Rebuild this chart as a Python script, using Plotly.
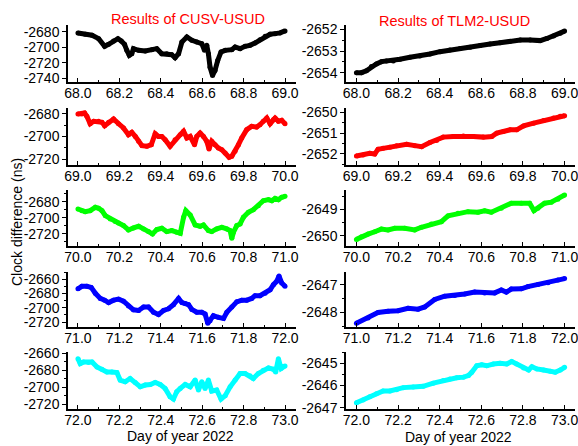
import plotly.graph_objects as go

# ---------------- data ----------------
base_days = [68, 69, 70, 71, 72]
colors = ["#000000", "#FF0000", "#00FF00", "#0000FF", "#00FFFF"]

# CUSV-USUD (left column): day offsets and clock difference (ns)
cusv_t68 = [0, .035, .068, .100, .129, .148, .172, .193, .209, .225, .236, .248, .260, .268, .293, .325, .357, .381, .405, .429,
            .453, .469, .486, .502, .526, .550, .574, .598, .611, .622, .630, .638, .650, .662, .675, .691, .711, .743, .759, .783,
            .807, .831, .855, .879, .904, .928, .952, .976, 1.0]
cusv_v68 = [-2681.3, -2683, -2684.3, -2688.7, -2698.7, -2696.1, -2691.7, -2688.7, -2691.7, -2696.1, -2703.9, -2710.4, -2708.3,
            -2701.7, -2703.9, -2704.8, -2703, -2701.7, -2708.3, -2708.3, -2709.6, -2713.5, -2708.3, -2693, -2686.5, -2690.9,
            -2693, -2695.2, -2703.9, -2697.4, -2708.3, -2725.7, -2736.5, -2730, -2717, -2706, -2703.9, -2703, -2699.6,
            -2701.7, -2698.7, -2697.4, -2694.3, -2690, -2685.7, -2683, -2682.2, -2681.3, -2678.7]

cusv_t69 = [0, .019, .032, .043, .059, .076, .100, .116, .129, .148, .172, .196, .220, .244, .260, .277, .293, .309, .333, .354,
            .373, .389, .405, .421, .445, .469, .494, .510, .526, .542, .563, .574, .590, .606, .622, .633, .646, .662, .678,
            .695, .711, .730, .743, .759, .775, .791, .815, .839, .863, .879, .895, .912, .928, .944, .952, .968, .984, 1.0]
cusv_v69 = [-2680.0, -2680.0, -2679.1, -2682.1, -2688.6, -2686.5, -2686.5, -2687.4, -2690.4, -2687.4, -2684.4, -2688.6,
            -2692.4, -2698.4, -2696.3, -2699.9, -2704.3, -2708.1, -2708.7, -2707.3, -2697.5, -2699.9, -2699.9, -2702.8,
            -2708.7, -2702.8, -2698.4, -2695.4, -2701.3, -2699.9, -2707.3, -2699.9, -2696.9, -2699.9, -2704.3, -2711.1,
            -2704.3, -2707.3, -2710.2, -2711.7, -2714.7, -2718.5, -2717.6, -2713.2, -2707.3, -2701.3, -2693.9, -2691.0,
            -2691.6, -2689.5, -2686.5, -2683.6, -2688.6, -2685.0, -2683.6, -2686.5, -2685.6, -2688.6]

cusv_t70 = [0, .019, .035, .059, .084, .100, .116, .132, .156, .180, .196, .220, .244, .268, .293, .317, .341, .360, .381, .405,
            .429, .453, .477, .494, .510, .521, .542, .566, .590, .606, .630, .646, .670, .695, .719, .735, .743, .751, .767,
            .783, .799, .823, .847, .871, .895, .920, .936, .952, .968, .984, 1.0]
cusv_v70 = [-2689.1, -2691.1, -2692.4, -2691.1, -2687.0, -2688.2, -2691.1, -2697.3, -2701.4, -2704.7, -2706.4, -2709.7,
            -2715.1, -2712.6, -2710.5, -2713.8, -2717.1, -2720.0, -2714.6, -2713.0, -2717.1, -2715.9, -2717.9, -2719.2,
            -2699.4, -2691.1, -2696.5, -2708.9, -2710.5, -2708.9, -2715.9, -2717.1, -2713.8, -2711.8, -2713.8, -2715.9,
            -2725.4, -2717.9, -2709.7, -2707.6, -2699.4, -2693.2, -2689.9, -2684.9, -2678.8, -2677.5, -2678.8, -2675.9,
            -2677.5, -2674.6, -2673.4]

cusv_t71 = [0, .019, .043, .064, .084, .108, .129, .148, .172, .196, .220, .244, .268, .293, .317, .341, .365, .389, .413, .437,
            .461, .486, .502, .518, .534, .550, .574, .598, .614, .627, .638, .654, .678, .703, .719, .743, .767, .791, .815,
            .839, .855, .879, .904, .928, .944, .960, .971, .984, 1.0]
cusv_v71 = [-2673.5, -2670.1, -2670.1, -2671.6, -2679.8, -2687.0, -2689.4, -2692.8, -2689.4, -2688.0, -2690.8, -2697.6,
            -2702.9, -2703.9, -2699.0, -2699.0, -2706.3, -2709.6, -2703.9, -2701.5, -2695.7, -2687.0, -2692.8, -2694.2,
            -2695.7, -2702.4, -2706.3, -2706.3, -2708.7, -2721.7, -2718.3, -2711.1, -2713.5, -2714.9, -2706.3, -2699.0,
            -2691.8, -2689.4, -2689.4, -2687.0, -2683.1, -2683.1, -2679.8, -2674.9, -2667.7, -2662.9, -2655.7, -2665.3,
            -2670.1]

cusv_t72 = [0, .011, .027, .051, .068, .092, .116, .140, .164, .188, .204, .228, .252, .277, .301, .325, .349, .373, .397, .421,
            .445, .461, .477, .494, .518, .542, .566, .582, .598, .614, .630, .646, .670, .691, .711, .735, .759, .783, .807,
            .831, .847, .871, .895, .920, .944, .955, .968, .981, 1.0]
cusv_v72 = [-2666.6, -2672.4, -2670.4, -2671.2, -2670.4, -2676.3, -2679.0, -2682.1, -2682.1, -2682.8, -2691.7, -2693.7,
            -2689.8, -2694.4, -2699.5, -2697.5, -2696.8, -2694.4, -2696.8, -2701.4, -2711.1, -2713.8, -2705.3, -2701.4,
            -2696.8, -2699.5, -2691.7, -2703.3, -2693.7, -2701.4, -2691.7, -2704.5, -2703.3, -2713.8, -2709.9, -2699.5,
            -2691.7, -2684.0, -2684.0, -2686.7, -2689.8, -2684.0, -2680.1, -2677.4, -2679.0, -2682.1, -2666.6, -2678.2,
            -2675.1]

# TLM2-USUD (right column)
tlm2_t68 = [0, .024, .048, .072, .096, .120, .144, .177, .209, .257, .305, .353, .401, .449, .498, .546, .594, .642, .690,
            .738, .787, .835, .883, .915, .947, .979, 1.0]
tlm2_v68 = [-2654.0, -2654.0, -2653.91, -2653.72, -2653.6, -2653.49, -2653.46, -2653.46, -2653.38, -2653.29, -2653.23,
            -2653.14, -2653.03, -2652.95, -2652.89, -2652.83, -2652.75, -2652.68, -2652.62, -2652.55, -2652.49, -2652.49,
            -2652.52, -2652.42, -2652.31, -2652.18, -2652.08]

tlm2_t69 = [0, .032, .064, .088, .104, .128, .161, .193, .241, .281, .313, .353, .385, .417, .465, .514, .562, .610, .650,
            .674, .706, .738, .770, .803, .851, .899, .947, .979, 1.0]
tlm2_v69 = [-2652.1, -2652.05, -2651.97, -2652.0, -2651.77, -2651.73, -2651.68, -2651.6, -2651.53, -2651.6, -2651.65,
            -2651.45, -2651.35, -2651.19, -2651.16, -2651.13, -2651.16, -2651.19, -2651.16, -2651.0, -2650.92, -2650.84,
            -2650.84, -2650.65, -2650.52, -2650.39, -2650.27, -2650.19, -2650.16]

tlm2_t70 = [0, .024, .056, .088, .120, .152, .184, .232, .280, .312, .360, .408, .440, .488, .536, .584, .616, .648, .696,
            .744, .792, .832, .853, .872, .904, .936, .968, 1.0]
tlm2_v70 = [-2650.14, -2650.04, -2649.94, -2649.85, -2649.75, -2649.78, -2649.72, -2649.72, -2649.78, -2649.68, -2649.56,
            -2649.47, -2649.25, -2649.15, -2649.09, -2649.11, -2649.06, -2649.11, -2648.96, -2648.77, -2648.77, -2648.77,
            -2649.05, -2648.96, -2648.77, -2648.73, -2648.62, -2648.46]

tlm2_t71 = [0, .056, .104, .152, .200, .248, .296, .328, .376, .424, .472, .520, .568, .616, .664, .696, .720, .744, .792,
            .824, .872, .920, .968, 1.0]
tlm2_v71 = [-2648.39, -2648.2, -2648.0, -2647.96, -2647.94, -2647.85, -2647.88, -2647.8, -2647.53, -2647.41, -2647.38,
            -2647.33, -2647.26, -2647.29, -2647.29, -2647.18, -2647.26, -2647.15, -2647.14, -2647.06, -2646.98, -2646.92,
            -2646.82, -2646.77]

tlm2_t72 = [0, .032, .064, .096, .128, .161, .193, .225, .273, .321, .369, .417, .449, .482, .514, .538, .554, .578, .602,
            .626, .658, .690, .722, .746, .770, .803, .827, .843, .867, .899, .931, .955, .979, 1.0]
tlm2_v72 = [-2646.78, -2646.66, -2646.51, -2646.37, -2646.25, -2646.25, -2646.19, -2646.1, -2646.07, -2646.04, -2645.9,
            -2645.78, -2645.71, -2645.66, -2645.63, -2645.56, -2645.41, -2645.12, -2645.07, -2645.12, -2645.04, -2645.01,
            -2645.04, -2644.93, -2645.04, -2645.22, -2645.31, -2645.16, -2645.26, -2645.31, -2645.37, -2645.41, -2645.31,
            -2645.19]

left_series = [(cusv_t68, cusv_v68), (cusv_t69, cusv_v69), (cusv_t70, cusv_v70), (cusv_t71, cusv_v71), (cusv_t72, cusv_v72)]
right_series = [(tlm2_t68, tlm2_v68), (tlm2_t69, tlm2_v69), (tlm2_t70, tlm2_v70), (tlm2_t71, tlm2_v71), (tlm2_t72, tlm2_v72)]

# y tick values per panel
left_yticks = [[-2680, -2700, -2720, -2740], [-2680, -2700, -2720], [-2680, -2700, -2720],
               [-2660, -2680, -2700, -2720], [-2660, -2680, -2700, -2720]]
right_yticks = [[-2652, -2653, -2654], [-2650, -2651, -2652], [-2649, -2650], [-2647, -2648], [-2645, -2646, -2647]]
left_yranges = [[-2745, -2671], [-2725.3, -2674.7], [-2735, -2665.5], [-2727, -2650], [-2725.5, -2658.8]]
right_yranges = [[-2654.43, -2651.8], [-2652.53, -2649.79], [-2650.39, -2648.27], [-2648.53, -2646.53], [-2647.06, -2644.5]]
left_yminor = [20, 10, 10, 10, 10]
right_yminor = [0.5, 0.5, 0.5, 0.5, 0.5]

titles = ["Results of CUSV-USUD", "Results of TLM2-USUD"]
xlabel = "Day of year 2022"
ylabel = "Clock difference (ns)"

# ---------------- layout ----------------
W, H = 578, 446
FONT = "Liberation Sans, Arial, sans-serif"
row_px = [(25, 82), (108, 165), (190, 246), (272, 327), (352, 409)]
col_px = [(68, 296), (346, 575)]
xpad = [(0.048, 0.053), (0.05, 0.05)]

fig = go.Figure()
layout = dict(width=W, height=H, margin=dict(l=0, r=0, t=0, b=0, autoexpand=False), paper_bgcolor="white",
              plot_bgcolor="white", showlegend=False, font=dict(family=FONT, size=14, color="black"))

k = 0
for c, series_set in enumerate([left_series, right_series]):
    yticks_set = left_yticks if c == 0 else right_yticks
    yr_set = left_yranges if c == 0 else right_yranges
    ymin_set = left_yminor if c == 0 else right_yminor
    for r in range(5):
        k += 1
        xa = "x" if k == 1 else f"x{k}"
        ya = "y" if k == 1 else f"y{k}"
        t, v = series_set[r]
        days = [base_days[r] + o for o in t]
        fig.add_trace(go.Scatter(x=days, y=v, mode="lines+markers", xaxis=xa, yaxis=ya, cliponaxis=False,
                                 line=dict(color=colors[r], width=5),
                                 marker=dict(color=colors[r], size=5), hoverinfo="skip"))
        x0, x1 = col_px[c]
        y0, y1 = row_px[r]
        b = base_days[r]
        xt = [b + i * 0.2 for i in range(6)]
        layout["xaxis" if k == 1 else f"xaxis{k}"] = dict(
            domain=[x0 / W, x1 / W], anchor=ya, range=[b - xpad[c][0], b + 1 + xpad[c][1]], automargin=False,
            tickmode="array", tickvals=xt, ticktext=[f"{x:.1f}" for x in xt], ticklabeloverflow="allow",
            ticklabelstandoff=-3,
            ticks="inside", ticklen=4, tickwidth=1, tickcolor="black",
            minor=dict(ticks="inside", ticklen=2, dtick=0.1, tick0=b, tickcolor="black"),
            showline=True, linecolor="black", linewidth=1.5, showgrid=False, zeroline=False,
            tickfont=dict(family=FONT, size=14, color="black"), fixedrange=True)
        yt = yticks_set[r]
        layout["yaxis" if k == 1 else f"yaxis{k}"] = dict(
            domain=[1 - y1 / H, 1 - y0 / H], anchor=xa, range=yr_set[r], automargin=False,
            tickmode="array", tickvals=yt, ticktext=[str(int(y)) for y in yt], ticklabeloverflow="allow",
            ticks="outside", ticklen=4, tickwidth=1, tickcolor="black",
            minor=dict(ticks="outside", ticklen=2, dtick=ymin_set[r], tickcolor="black"),
            showline=True, linecolor="black", linewidth=1.5, showgrid=False, zeroline=False,
            tickfont=dict(family=FONT, size=14, color="black"), fixedrange=True)

annotations = [
    dict(text=titles[0], x=188 / W, y=1 - 19 / H, xref="paper", yref="paper", showarrow=False,
         font=dict(family=FONT, size=14.5, color="#FF0000"), xanchor="center", yanchor="middle"),
    dict(text=titles[1], x=454 / W, y=1 - 21 / H, xref="paper", yref="paper", showarrow=False,
         font=dict(family=FONT, size=14.5, color="#FF0000"), xanchor="center", yanchor="middle"),
    dict(text=xlabel, x=180 / W, y=1 - 436 / H, xref="paper", yref="paper", showarrow=False,
         font=dict(family=FONT, size=14, color="black"), xanchor="center", yanchor="middle"),
    dict(text=xlabel, x=458 / W, y=1 - 437 / H, xref="paper", yref="paper", showarrow=False,
         font=dict(family=FONT, size=14, color="black"), xanchor="center", yanchor="middle"),
    dict(text=ylabel, x=17 / W, y=1 - 222 / H, xref="paper", yref="paper", showarrow=False, textangle=-90,
         font=dict(family=FONT, size=14, color="black"), xanchor="center", yanchor="middle"),
]
layout["annotations"] = annotations
fig.update_layout(**layout)
fig.write_html("out.html", config={"displayModeBar": False},
               post_script="document.body.style.margin='0';document.body.style.padding='0';"
                           "document.body.style.overflow='hidden';")
